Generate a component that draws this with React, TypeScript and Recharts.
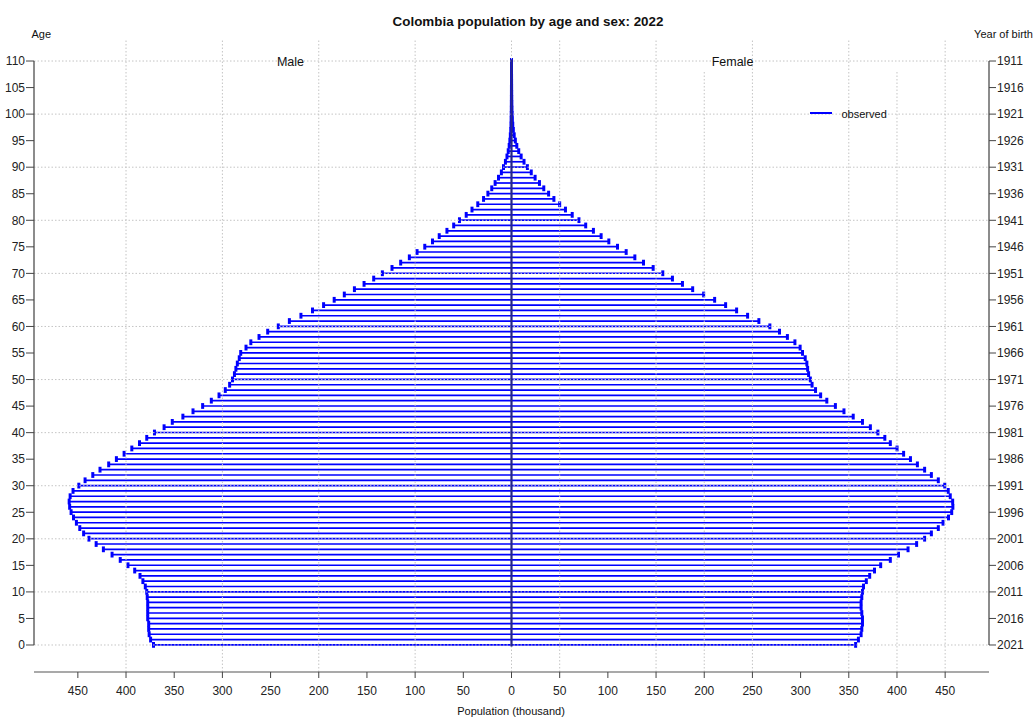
import React from 'react';
import { ComposedChart, Bar, XAxis, YAxis, ReferenceLine } from 'recharts';

// ---------- data ----------
const ages: number[] = Array.from({ length: 111 }, (_, i) => i);

// population in thousands, age 0 .. 110
const male: number[] = [
  371.5, 374.5, 376, 376.5, 376.5, 377.5, 377.5, 377.5, 377.5, 378,
  378.5, 380, 382.5, 385.5, 391, 398, 406, 414.5, 423.5, 431,
  438.5, 444, 448, 451.5, 454.5, 457, 458.5, 459, 458, 455,
  449, 442.5, 434.5, 427, 418, 410, 402, 394, 386, 378.5,
  370.5, 360.5, 352, 341, 330.5, 320.5, 311.5, 303.5, 297, 292.5,
  289.5, 287.5, 286, 284.5, 282.5, 281, 275.5, 270.5, 262, 253,
  242, 230.5, 218.5, 206.5, 195, 184, 173.5, 163, 153, 143,
  134, 124, 115, 106, 98, 90, 82, 75, 67, 60,
  54, 47, 41, 35, 29, 24.5, 20.5, 17, 13.5, 10.5,
  8.3, 6.3, 4.7, 3.4, 2.4, 1.7, 1.2, 0.8, 0.55, 0.4,
  0.3, 0.2, 0.15, 0.1, 0.07, 0.05, 0.03, 0.02, 0.01, 0.01,
  0.01,
];

const female: number[] = [
  357.1, 360, 362.8, 363.5, 364.2, 364.2, 363.5, 362.8, 362.8, 363.5,
  364.2, 365.3, 368.2, 371.7, 376.7, 383.1, 393.1, 401.6, 411.5, 420.4,
  428.7, 435.7, 442.9, 447.8, 453.5, 456.8, 458, 457.8, 455.3, 453.2,
  449.6, 442.9, 435.7, 428.7, 421.2, 414, 406.9, 400.1, 393.1, 387.4,
  380.2, 372.4, 364.2, 354.6, 345, 336.1, 327.2, 320.8, 315.5, 311.9,
  310.1, 308.3, 307.3, 306.5, 304.8, 302, 299.5, 294.1, 286.3, 278.1,
  268.1, 256.7, 245, 233.6, 222.2, 210.8, 199.4, 188, 177.4, 167,
  157, 147, 137, 128, 119, 110, 101, 93, 85, 77,
  70, 63, 56, 50, 44, 38.5, 33.5, 29, 24.5, 20.5,
  16.5, 13, 10, 7.5, 5.5, 4, 2.8, 1.9, 1.3, 0.9,
  0.7, 0.5, 0.35, 0.25, 0.18, 0.12, 0.08, 0.05, 0.03, 0.02,
  0.01,
];

const ageTicks: number[] = [0, 5, 10, 15, 20, 25, 30, 35, 40, 45, 50, 55, 60, 65, 70, 75, 80, 85, 90, 95, 100, 105, 110];
const popTicks: number[] = [-450, -400, -350, -300, -250, -200, -150, -100, -50, 0, 50, 100, 150, 200, 250, 300, 350, 400, 450];
const ageGrid: number[] = [0, 10, 20, 30, 40, 50, 60, 70, 80, 90, 100, 110];
const popGridFull: number[] = [-400, -300, -200, -100, 0, 50, 150, 250, 350, 450];
const popGridPartial: number[] = [200, 400];
const censusYear = 2021;

const rows = ages.map((a, i) => ({ age: a, male: -male[i], female: female[i] }));

// ---------- style ----------
const BLUE = '#0000ff';
const FONT = '"Liberation Sans", Arial, Helvetica, sans-serif';
const X_DOMAIN: [number, number] = [-495.5, 495.5];
const Y_DOMAIN: [number, number] = [-5.086, 113.96];

const makeShape = (side: 'm' | 'f') => (p: any) => {
  const { x, y, width, height } = p;
  if (x == null || y == null || width == null) return <g />;
  const cy = y + (height || 0) / 2;
  const a = x;
  const b = x + width;
  const inner = side === 'm' ? Math.max(a, b) : Math.min(a, b);
  const outer = side === 'm' ? Math.min(a, b) : Math.max(a, b);
  return (
    <g>
      <line x1={inner} x2={outer} y1={cy} y2={cy} stroke={BLUE} strokeWidth={1.7} />
      <line x1={outer} x2={outer} y1={cy - 2.9} y2={cy + 2.9} stroke={BLUE} strokeWidth={3} />
    </g>
  );
};
const MaleShape = makeShape('m');
const FemaleShape = makeShape('f');

const Txt = (props: { x: number; y: number; children: React.ReactNode; size?: number; bold?: boolean; align?: 'left' | 'center' | 'right' }) => {
  const { x, y, size = 11, bold = false, align = 'center' } = props;
  const tx = align === 'center' ? '-50%' : align === 'right' ? '-100%' : '0';
  return (
    <div
      style={{
        position: 'absolute',
        left: x,
        top: y,
        transform: `translate(${tx}, -50%)`,
        fontFamily: FONT,
        fontSize: size,
        fontWeight: bold ? 700 : 400,
        lineHeight: 1,
        whiteSpace: 'nowrap',
        color: '#111',
      }}
    >
      {props.children}
    </div>
  );
};

const tickStyle = { fontFamily: FONT, fontSize: 12, fill: '#222' };

export default function App() {
  return (
    <div style={{ position: 'absolute', left: 0, top: 0, width: 1035, height: 717, background: '#fff' }}>
      <ComposedChart
        width={1035}
        height={717}
        data={rows}
        layout="vertical"
        stackOffset="sign"
        margin={{ top: 40, right: 0, bottom: 0, left: 0 }}
      >
        <XAxis
          type="number"
          domain={X_DOMAIN}
          allowDataOverflow
          ticks={popTicks}
          interval={0}
          tickFormatter={(v: number) => String(Math.abs(v))}
          height={45}
          tickSize={6}
          tickMargin={8}
          tick={tickStyle}
          axisLine={{ stroke: '#555', strokeWidth: 1.2 }}
          tickLine={{ stroke: '#444' }}
        />
        <YAxis
          yAxisId="L"
          type="number"
          dataKey="age"
          domain={Y_DOMAIN}
          allowDataOverflow
          reversed
          ticks={ageTicks}
          interval={0}
          width={34}
          tickSize={8}
          tickMargin={1}
          tick={tickStyle}
          axisLine={false}
          tickLine={{ stroke: '#444' }}
        />
        <YAxis
          yAxisId="R"
          orientation="right"
          type="number"
          dataKey="age"
          domain={Y_DOMAIN}
          allowDataOverflow
          reversed
          ticks={ageTicks}
          interval={0}
          tickFormatter={(v: number) => String(censusYear - v)}
          width={46}
          tickSize={7}
          tickMargin={1}
          tick={tickStyle}
          axisLine={false}
          tickLine={{ stroke: '#444' }}
        />

        {ageGrid.map((a) => (
          <ReferenceLine key={'h' + a} yAxisId="L" y={a} stroke="#c4c4c4" strokeDasharray="1.5 2" />
        ))}
        {popGridFull.map((v) => (
          <ReferenceLine key={'v' + v} yAxisId="L" x={v} stroke="#c4c4c4" strokeDasharray="1.5 2" />
        ))}
        {popGridPartial.map((v) => (
          <ReferenceLine
            key={'p' + v}
            yAxisId="L"
            segment={[{ x: v, y: Y_DOMAIN[0] }, { x: v, y: 108.3 }]}
            stroke="#c4c4c4"
            strokeDasharray="1.5 2"
          />
        ))}

        <Bar dataKey="male" yAxisId="L" stackId="p" isAnimationActive={false} shape={MaleShape} />
        <Bar dataKey="female" yAxisId="L" stackId="p" isAnimationActive={false} shape={FemaleShape} />

        <ReferenceLine yAxisId="L" segment={[{ x: 0, y: -0.3 }, { x: 0, y: 110.3 }]} stroke="#26268a" strokeWidth={2.2} />
        <ReferenceLine yAxisId="L" segment={[{ x: X_DOMAIN[0], y: 0 }, { x: X_DOMAIN[0], y: 110 }]} stroke="#666" strokeWidth={1.5} />
        <ReferenceLine yAxisId="L" segment={[{ x: X_DOMAIN[1], y: 0 }, { x: X_DOMAIN[1], y: 110 }]} stroke="#666" strokeWidth={1.5} />
      </ComposedChart>

      <Txt x={528} y={21.5} size={13.4} bold>Colombia population by age and sex: 2022</Txt>
      <Txt x={31.5} y={34} size={11} align="left">Age</Txt>
      <Txt x={1033} y={34} size={11} align="right">Year of birth</Txt>
      <Txt x={290.5} y={62} size={12.5}>Male</Txt>
      <Txt x={732.5} y={62} size={12.5}>Female</Txt>
      <div style={{ position: 'absolute', left: 810, top: 112.3, width: 22, height: 2, background: BLUE }} />
      <Txt x={841.5} y={113.5} size={11} align="left">observed</Txt>
      <Txt x={511} y={710.5} size={11}>Population (thousand)</Txt>
    </div>
  );
}
